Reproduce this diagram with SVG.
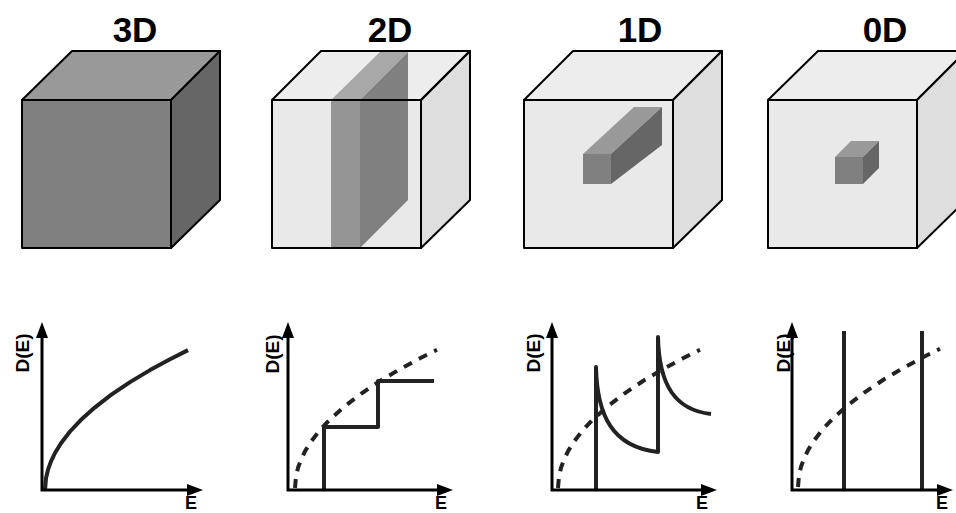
<svg xmlns="http://www.w3.org/2000/svg" xmlns:xlink="http://www.w3.org/1999/xlink" width="956" height="513" viewBox="0 0 956 513">
<style>
.title{font-family:"Liberation Sans",Arial,sans-serif;font-weight:bold;font-size:35px;fill:#000;text-anchor:middle}
.lbl{font-family:"Liberation Sans",Arial,sans-serif;font-weight:bold;font-size:19px;fill:#000;text-anchor:middle}
.elbl{font-family:"Liberation Sans",Arial,sans-serif;font-weight:bold;font-size:18px;fill:#000;text-anchor:middle}
.edge{stroke:#000;stroke-width:2;stroke-linejoin:round}
.axis{fill:none;stroke:#000;stroke-width:3;marker-start:url(#arrS);marker-end:url(#arrE)}
.curve{fill:none;stroke:#222;stroke-width:4;stroke-linejoin:round}
.dash{fill:none;stroke:#222;stroke-width:4;stroke-dasharray:9 8}
</style>
<defs>
<marker id="arrE" viewBox="0 0 16 12" refX="6" refY="6" markerWidth="16" markerHeight="12" orient="auto" markerUnits="userSpaceOnUse"><path d="M0,0 L16,6 L0,12 z" fill="#000"/></marker>
<marker id="arrS" viewBox="0 0 16 12" refX="6" refY="6" markerWidth="16" markerHeight="12" orient="auto-start-reverse" markerUnits="userSpaceOnUse"><path d="M0,0 L16,6 L0,12 z" fill="#000"/></marker>
<path id="sq" d="M0,0 L1,-11.6 L3,-20.1 L6,-28.4 L10,-36.7 L16,-46.4 L25,-58 L36,-69.6 L50,-82 L66,-94.2 L85,-107 L105,-118.9 L125,-129.7 L142,-138.2"/>
</defs>
<rect width="956" height="513" fill="#fff"/>

<g id="cube3d">
<text class="title" x="135" y="42">3D</text>
<polygon points="22,100 72,51 220,51 171,100" fill="#999" class="edge"/>
<polygon points="171,100 220,51 220,200 171,248" fill="#666" class="edge"/>
<rect x="22" y="100" width="149" height="148" fill="#808080" class="edge"/>
</g>

<g id="cube2d">
<text class="title" x="390" y="42">2D</text>
<polygon points="272,100 321,51 470,51 421,100" fill="#ededed"/>
<polygon points="421,100 470,51 470,200 421,248" fill="#dedede"/>
<rect x="272" y="100" width="149" height="148" fill="#e9e9e9"/>
<polygon points="331,100 360,100 408,52 380,52" fill="#a8a8a8"/>
<polygon points="360,100 408,52 408,200 360,248" fill="#808080"/>
<rect x="331" y="100" width="29" height="148" fill="#959595"/>
<polygon points="272,100 321,51 470,51 421,100" fill="none" class="edge"/>
<polygon points="421,100 470,51 470,200 421,248" fill="none" class="edge"/>
<rect x="272" y="100" width="149" height="148" fill="none" class="edge"/>
</g>

<g id="cube1d">
<text class="title" x="640" y="42">1D</text>
<polygon points="524,100 573,51 722,51 673,100" fill="#ededed" class="edge"/>
<polygon points="673,100 722,51 722,200 673,248" fill="#dedede" class="edge"/>
<rect x="524" y="100" width="149" height="148" fill="#e9e9e9" class="edge"/>
<polygon points="583,154 634,107 662,107 611,154" fill="#999"/>
<polygon points="611,154 662,107 662,145 611,184" fill="#666"/>
<rect x="583" y="154" width="28" height="30" fill="#808080"/>
</g>

<g id="cube0d">
<text class="title" x="885" y="42">0D</text>
<polygon points="768,100 818,51 966,51 917,100" fill="#ededed" class="edge"/>
<polygon points="917,100 966,51 966,200 917,248" fill="#dedede" class="edge"/>
<rect x="768" y="100" width="149" height="148" fill="#e9e9e9" class="edge"/>
<polygon points="835,157 851,141 879,141 863,157" fill="#999"/>
<polygon points="863,157 879,141 879,168 863,184" fill="#666"/>
<rect x="835" y="157" width="28" height="27" fill="#808080"/>
</g>

<g id="graph3d">
<path class="curve" d="M45,490 L46,478.3 L48,469.7 L51,461.3 L55,453 L61,443.2 L70,431.5 L81,419.8 L95,407.3 L111,394.9 L130,382.1 L150,370.1 L170,359.2 L188,350.1"/>
<path class="axis" d="M42,332 L42,490 L193,490"/>
<text class="lbl" transform="translate(29,353) rotate(-90)">D(E)</text>
<text class="elbl" x="191" y="509">E</text>
</g>

<g id="graph2d">
<use xlink:href="#sq" href="#sq" class="dash" transform="translate(295,488)"/>
<path class="curve" d="M324,490 L324,427 L378,427 L378,381 L434,381"/>
<path class="axis" d="M288,332 L288,490 L443,490"/>
<text class="lbl" transform="translate(279,354) rotate(-90)">D(E)</text>
<text class="elbl" x="441" y="509">E</text>
</g>

<g id="graph1d">
<use xlink:href="#sq" href="#sq" class="dash" transform="translate(558,488)"/>
<path class="curve" d="M596,490 L596,367 C597,415 612,447 658,452 L658,337 C659,385 675,410 711,414"/>
<path class="axis" d="M552,332 L552,490 L707,490"/>
<text class="lbl" transform="translate(540,353) rotate(-90)">D(E)</text>
<text class="elbl" x="702" y="509">E</text>
</g>

<g id="graph0d">
<use xlink:href="#sq" href="#sq" class="dash" transform="translate(798,487)"/>
<path class="curve" d="M844,490 L844,331 M922,490 L922,331"/>
<path class="axis" d="M792,332 L792,490 L943,490"/>
<text class="lbl" transform="translate(790,353) rotate(-90)">D(E)</text>
<text class="elbl" x="942" y="509">E</text>
</g>
</svg>
